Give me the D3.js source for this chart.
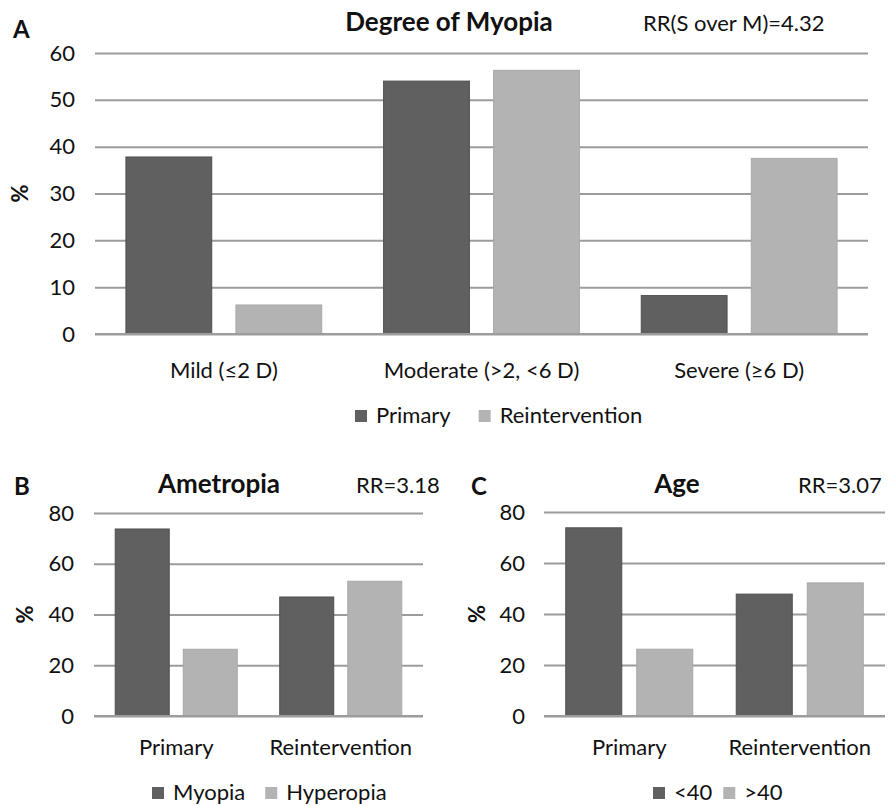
<!DOCTYPE html>
<html>
<head>
<meta charset="utf-8">
<script src="https://cdn.jsdelivr.net/npm/d3@7"></script>
<style>
  html, body { margin: 0; padding: 0; background: #fff; }
  svg text { font-family: Lato, "Open Sans", sans-serif; fill: #111; }
</style>
</head>
<body>
<svg id="chart" width="888" height="806"></svg>
<script>
// ---------- DATA ----------
const myopiaCategories = ["Mild (\u22642 D)", "Moderate (>2, <6 D)", "Severe (\u22656 D)"];
const myopiaSeries = ["Primary", "Reintervention"];
const myopiaPrimary = [37.8, 54.0, 8.2];
const myopiaReintervention = [6.2, 56.3, 37.5];
const myopiaTicks = [0, 10, 20, 30, 40, 50, 60];

const groupCategories = ["Primary", "Reintervention"];
const ametropiaSeries = ["Myopia", "Hyperopia"];
const ametropiaMyopia = [73.7, 46.9];
const ametropiaHyperopia = [26.3, 53.1];

const ageSeries = ["<40", ">40"];
const ageUnder40 = [73.8, 47.8];
const ageOver40 = [26.2, 52.2];

const bcTicks = [0, 20, 40, 60, 80];

// ---------- STYLE ----------
const darkFill = "#606060", darkStroke = "#505050";
const lightFill = "#b3b3b3", lightStroke = "#a8a8a8";
const gridColor = "#9c9c9c";

const svg = d3.select("#chart");

function panel(cfg) {
  const g = svg.append("g");
  const y = d3.scaleLinear().domain([0, cfg.ticks[cfg.ticks.length - 1]]).range([cfg.y0, cfg.y1]);
  const x0 = d3.scaleBand().domain(cfg.categories).range([cfg.xL, cfg.xR])
    .paddingInner(cfg.padOuterBand * 2).paddingOuter(cfg.padOuterBand);
  const x1 = d3.scaleBand().domain(cfg.series).range([0, x0.bandwidth()])
    .paddingInner(cfg.padInner).paddingOuter(0);
  const color = d3.scaleOrdinal().domain(cfg.series).range([darkFill, lightFill]);
  const stroke = d3.scaleOrdinal().domain(cfg.series).range([darkStroke, lightStroke]);

  // gridlines + tick labels via axis
  const axis = d3.axisLeft(y).tickValues(cfg.ticks).tickSize(-(cfg.xR - cfg.xL)).tickPadding(cfg.tickPad);
  const ag = g.append("g").attr("transform", `translate(${cfg.xL},0)`).call(axis);
  ag.select(".domain").remove();
  ag.selectAll(".tick line").attr("stroke", gridColor).attr("stroke-width", 2);
  ag.selectAll(".tick text").attr("font-size", cfg.fs).attr("font-family", "Lato")
    .attr("fill", "#111").attr("font-weight", cfg.tickBold ? "bold" : "normal");

  // bars
  const rows = cfg.categories.map((c, i) => ({ cat: c, vals: cfg.series.map((s, j) => ({ s, v: cfg.values[j][i] })) }));
  const grp = g.selectAll(".grp").data(rows).join("g").attr("transform", d => `translate(${x0(d.cat)},0)`);
  grp.selectAll("rect").data(d => d.vals).join("rect")
    .attr("x", d => x1(d.s)).attr("width", x1.bandwidth())
    .attr("y", d => y(d.v)).attr("height", d => y(0) - y(d.v))
    .attr("fill", d => color(d.s)).attr("stroke", d => stroke(d.s)).attr("stroke-width", 1);

  // zero line on top
  g.append("line").attr("x1", cfg.xL).attr("x2", cfg.xR).attr("y1", y(0)).attr("y2", y(0))
    .attr("stroke", gridColor).attr("stroke-width", 2);

  // category labels
  g.selectAll(".cat").data(cfg.categories).join("text")
    .attr("x", d => x0(d) + x0.bandwidth() / 2).attr("y", cfg.catY)
    .attr("text-anchor", "middle").attr("font-size", cfg.fs).text(d => d);

  // y title "%"
  g.append("text").attr("transform", `translate(${cfg.pctX},${y(cfg.pctAt)}) rotate(-90)`)
    .attr("text-anchor", "middle").attr("dy", "0.35em").attr("font-size", cfg.fs)
    .attr("font-weight", "bold").text("%");

  // panel letter
  g.append("text").attr("x", cfg.letterX).attr("y", cfg.letterY).attr("font-size", 24)
    .attr("font-weight", "bold").attr("font-family", "Liberation Sans").text(cfg.letter);

  // title
  g.append("text").attr("x", cfg.titleX).attr("y", cfg.titleY).attr("text-anchor", "middle")
    .attr("font-size", cfg.titleFs).attr("font-weight", "bold").text(cfg.title);
  g.append("text").attr("x", cfg.rrX).attr("y", cfg.titleY).attr("font-size", cfg.fs).text(cfg.rr);

  // legend
  const lg = g.append("g");
  let cx = cfg.legX;
  cfg.series.forEach((s, i) => {
    lg.append("rect").attr("x", cx).attr("y", cfg.legY - cfg.sq - 1).attr("width", cfg.sq).attr("height", cfg.sq)
      .attr("fill", color(s));
    const t = lg.append("text").attr("x", cx + cfg.sq + 9).attr("y", cfg.legY).attr("font-size", cfg.fs).text(s);
    cx += cfg.sq + 9 + t.node().getComputedTextLength() + cfg.legGap;
  });
}

panel({
  categories: myopiaCategories, series: myopiaSeries, values: [myopiaPrimary, myopiaReintervention],
  ticks: myopiaTicks, xL: 95, xR: 868, y0: 334, y1: 53, padOuterBand: 0.12, padInner: 0.22,
  fs: 22, tickPad: 20, catY: 378, pctX: 20, pctAt: 30,
  letter: "A", letterX: 13, letterY: 38,
  title: "Degree of Myopia", titleX: 449, titleY: 31, titleFs: 26,
  rr: "RR(S over M)=4.32", rrX: 643,
  legX: 355, legY: 423, sq: 12, legGap: 28
});

panel({
  categories: groupCategories, series: ametropiaSeries, values: [ametropiaMyopia, ametropiaHyperopia],
  ticks: bcTicks, xL: 94, xR: 423, y0: 716, y1: 513, padOuterBand: 0.129, padInner: 0.206,
  fs: 22, tickPad: 20, catY: 755, pctX: 25, pctAt: 40,
  letter: "B", letterX: 14, letterY: 495,
  title: "Ametropia", titleX: 219, titleY: 493, titleFs: 26,
  rr: "RR=3.18", rrX: 356,
  legX: 152, legY: 800, sq: 12, legGap: 20
});

panel({
  categories: groupCategories, series: ageSeries, values: [ageUnder40, ageOver40],
  ticks: bcTicks, xL: 544, xR: 885, y0: 716, y1: 512, padOuterBand: 0.1275, padInner: 0.211,
  fs: 22, tickPad: 19, catY: 755, pctX: 477, pctAt: 40, tickBold: false,
  letter: "C", letterX: 471, letterY: 495,
  title: "Age", titleX: 677, titleY: 493, titleFs: 26,
  rr: "RR=3.07", rrX: 798,
  legX: 653, legY: 800, sq: 12, legGap: 11
});
</script>
</body>
</html>
